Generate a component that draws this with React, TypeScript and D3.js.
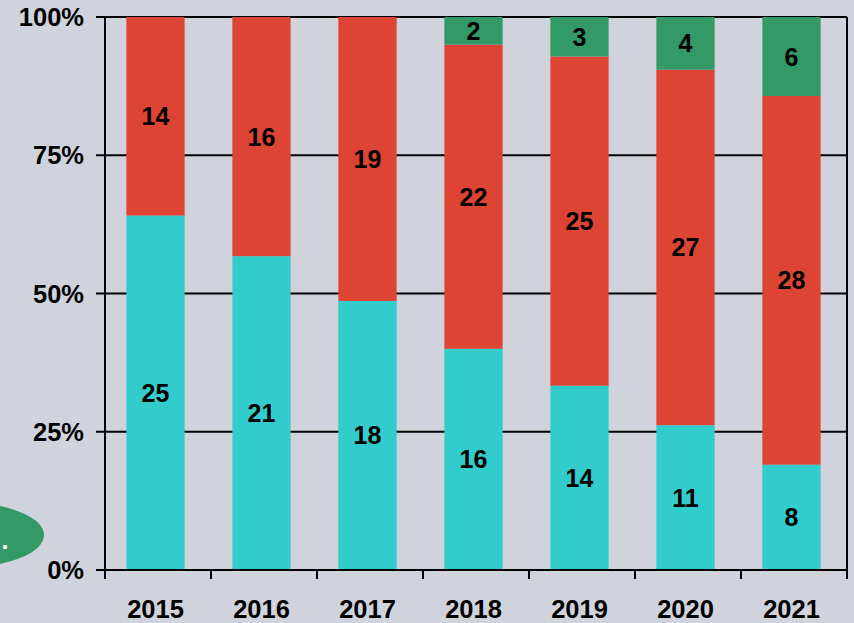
import React from "react";
import * as d3 from "d3";

const years = ["2015", "2016", "2017", "2018", "2019", "2020", "2021"];
const tealValues = [25, 21, 18, 16, 14, 11, 8];
const redValues = [14, 16, 19, 22, 25, 27, 28];
const greenValues = [0, 0, 0, 2, 3, 4, 6];
const seriesKeys = ["teal", "red", "green"];
const seriesColors = ["#33CCCC", "#DD4433", "#339966"];
const yTicks = [0, 0.25, 0.5, 0.75, 1];

const W = 854;
const H = 623;
const left = 105;
const right = 847;
const top = 17;
const bottom = 570;
const font = "'Liberation Sans', Arial, sans-serif";

export default function App() {
  const rows = years.map((y, i) => ({
    year: y,
    teal: tealValues[i],
    red: redValues[i],
    green: greenValues[i],
  }));
  const normalized = rows.map((r) => {
    const t = r.teal + r.red + r.green;
    return { year: r.year, teal: r.teal / t, red: r.red / t, green: r.green / t };
  });
  const stack = d3.stack<any>().keys(seriesKeys);
  const layers = stack(normalized as any);

  const x = d3.scaleBand().domain(years).range([left, right]).paddingInner(0).paddingOuter(0);
  const xBar = d3.scaleBand().domain(years).range([left - 2.5, right - 2.5]).paddingInner(0.45).paddingOuter(0.225);
  const y = d3.scaleLinear().domain([0, 1]).range([bottom, top]);
  const fmt = d3.format(".0%");

  return (
    <svg width={W} height={H} style={{ position: "absolute", left: 0, top: 0, background: "#D0D3DC" }}>
      <rect x={0} y={0} width={W} height={H} fill="#D0D3DC" />
      {/* callout ellipse partly off-canvas */}
      <ellipse cx={-40} cy={535} rx={84} ry={33} fill="#339966" />
      <text x={5} y={549} fill="#FFFFFF" fontFamily={font} fontWeight="bold" fontSize={25} textAnchor="middle">.</text>

      {/* gridlines */}
      {yTicks.filter((t) => t > 0).map((t) => (
        <line key={t} x1={left} x2={right} y1={y(t)} y2={y(t)} stroke="#000" strokeWidth={2} />
      ))}
      {/* right border */}
      <line x1={right} x2={right} y1={top} y2={bottom + 9} stroke="#000" strokeWidth={2} />

      {/* bars */}
      {layers.map((layer, li) => (
        <g key={layer.key} fill={seriesColors[li]}>
          {layer.map((d: any, i: number) => {
            const h = y(d[0]) - y(d[1]);
            if (h <= 0) return null;
            return <rect key={i} x={xBar(years[i])} width={xBar.bandwidth()} y={y(d[1])} height={h} />;
          })}
        </g>
      ))}
      {/* labels */}
      {layers.map((layer, li) => (
        <g key={"l" + layer.key}>
          {layer.map((d: any, i: number) => {
            const v = (rows[i] as any)[layer.key];
            if (!v) return null;
            const cy = (y(d[0]) + y(d[1])) / 2;
            return (
              <text key={i} x={(xBar(years[i]) as number) + xBar.bandwidth() / 2} y={cy} dy="0.36em"
                textAnchor="middle" fontFamily={font} fontWeight="bold" fontSize={25} fill="#000">
                {v}
              </text>
            );
          })}
        </g>
      ))}

      {/* y axis */}
      <line x1={left} x2={left} y1={top} y2={bottom + 1} stroke="#000" strokeWidth={2} />
      {yTicks.map((t) => (
        <g key={"yt" + t}>
          <line x1={left - 9} x2={left} y1={y(t)} y2={y(t)} stroke="#000" strokeWidth={2} />
          <text x={84} y={y(t)} dy="0.36em" textAnchor="end" fontFamily={font} fontWeight="bold" fontSize={25.5} fill="#000">
            {fmt(t)}
          </text>
        </g>
      ))}
      {/* x axis */}
      <line x1={left - 9} x2={right + 1} y1={bottom} y2={bottom} stroke="#000" strokeWidth={2} />
      {years.map((yr) => (
        <line key={"xt" + yr} x1={x(yr)} x2={x(yr)} y1={bottom} y2={bottom + 9} stroke="#000" strokeWidth={2} />
      ))}
      {years.map((yr) => (
        <text key={"xl" + yr} x={(x(yr) as number) + x.bandwidth() / 2 - 2.5} y={618} textAnchor="middle"
          fontFamily={font} fontWeight="bold" fontSize={25.5} fill="#000">
          {yr}
        </text>
      ))}
    </svg>
  );
}
